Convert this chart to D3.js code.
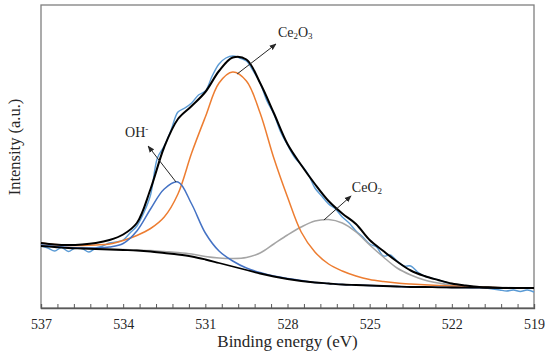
<!DOCTYPE html>
<html>
<head>
<meta charset="utf-8">
<script src="https://cdn.jsdelivr.net/npm/d3@7"></script>
<style>
  body { margin: 0; background: #fff; }
  svg text { font-family: "Liberation Serif", "DejaVu Serif", serif !important; fill: #262626; }
</style>
</head>
<body>
<svg id="chart" width="545" height="358"></svg>
<script>
// fitted curves, sampled every 0.5 eV (intensity in a.u.)
const energy = [537, 536.5, 536, 535.5, 535, 534.5, 534, 533.5, 533, 532.5, 532, 531.5, 531, 530.5, 530, 529.5,
  529, 528.5, 528, 527.5, 527, 526.5, 526, 525.5, 525, 524.5, 524, 523.5, 523, 522.5, 522, 521.5, 521, 520.5, 520, 519.5, 519];
const background = [62, 61, 60, 59.5, 59, 58.5, 58, 57.5, 56.5, 55, 53.5, 51.5, 48.5, 45, 41.5, 38,
  34.5, 31.5, 29, 27, 25.5, 24.5, 23.5, 23, 22.5, 22, 21.5, 21, 21, 20.7, 20.5, 20.4, 20.3, 20.2, 20.1, 20, 20];
const ohFit = [63, 61.5, 60.5, 60, 60, 61, 64.5, 77, 99, 119, 126, 104, 75, 57, 47, 40,
  35.5, 32, 29.5, 27.5, 25.5, 24.5, 23.5, 23, 22.5, 22, 21.5, 21, 21, 20.7, 20.5, 20.4, 20.3, 20.2, 20.1, 20, 20];
const ce2o3Fit = [65, 63.5, 62.5, 62.5, 63, 64, 67.5, 72.5, 79.5, 91, 114, 155, 191, 225, 236, 227,
  195, 150, 111, 76, 56, 44, 37, 32, 28.5, 26.5, 25, 24, 23.2, 22.5, 22, 21.3, 20.8, 20.5, 20.2, 20, 20];
const ceo2Fit = [62.5, 61.5, 60.5, 60, 59.5, 59, 58.5, 58, 57.5, 56.5, 55.5, 54, 51.5, 50, 49.5, 50.5,
  55, 64, 73, 81, 87, 88.5, 85, 76, 63, 51, 40, 33, 28, 25, 23, 22, 21.2, 20.7, 20.4, 20.2, 20];
const envelope = [65, 63.5, 63, 63.5, 65, 68, 73.5, 85, 119, 161, 189, 202, 216, 237, 250.5, 248.5,
  225, 195, 164, 143, 124, 107, 94.5, 84, 68, 57, 46.5, 37.5, 32, 28, 24.5, 22.5, 21, 20.5, 20, 20, 20];

// measured spectrum, every 0.25 eV
const rawEnergy = [537, 536.75, 536.5, 536.25, 536, 535.75, 535.5, 535.25, 535, 534.75, 534.5, 534.25,
  534, 533.75, 533.5, 533.25, 533, 532.75, 532.5, 532.25, 532, 531.75, 531.5, 531.25,
  531, 530.75, 530.5, 530.25, 530, 529.75, 529.5, 529.25, 529, 528.75, 528.5, 528.25,
  528, 527.75, 527.5, 527.25, 527, 526.75, 526.5, 526.25, 526, 525.75, 525.5, 525.25,
  525, 524.75, 524.5, 524.25, 524, 523.75, 523.5, 523.25, 523, 522.75, 522.5, 522.25,
  522, 521.75, 521.5, 521.25, 521, 520.75, 520.5, 520.25, 520, 519.75, 519.5, 519.25, 519];
const rawCounts = [62, 60, 57, 60.5, 56.5, 60, 59.5, 56, 60, 62, 65, 66,
  68, 75, 82, 95, 113, 150, 162, 178, 196, 200, 205, 213,
  217, 232, 244, 250, 252, 250, 247, 237, 225, 207, 194, 176,
  163, 151, 143, 134, 120, 112, 104, 99, 91, 85, 77, 71,
  64, 61, 52, 53, 47, 42, 42, 36, 32, 30, 28, 26,
  24, 22, 21, 21, 21, 20, 19, 18, 17, 18, 16.5, 18, 16];

const xLabels = [537, 534, 531, 528, 525, 522, 519];

const W = 545, H = 358;
const margin = {top: 5, right: 11, bottom: 50, left: 41};
const serif = '"Liberation Serif", "DejaVu Serif", serif';
const svg = d3.select('#chart');

const x = d3.scaleLinear().domain([537, 519]).range([margin.left, W - margin.right]);
const y = d3.scaleLinear().domain([0, 303]).range([H - margin.bottom, margin.top]);

// frame
svg.append('rect')
  .attr('x', margin.left).attr('y', margin.top)
  .attr('width', W - margin.left - margin.right)
  .attr('height', H - margin.top - margin.bottom)
  .attr('fill', 'none').attr('stroke', '#7f7f7f').attr('stroke-width', 1.3);

// bottom axis: inward ticks every 0.6 eV, labels every 3 eV
const minorTicks = d3.range(0, 31).map(i => 537 - i * 0.6);
const xAxis = svg.append('g')
  .attr('transform', `translate(0,${H - margin.bottom})`)
  .call(d3.axisBottom(x)
    .tickValues(minorTicks)
    .tickSize(-4)
    .tickPadding(11)
    .tickFormat(d => {
      const r = Math.round(d * 10) / 10;
      return xLabels.includes(r) ? r : '';
    }));
xAxis.attr('font-family', serif);
xAxis.select('.domain').attr('stroke', '#595959').attr('stroke-width', 1.3);
xAxis.selectAll('.tick line').attr('stroke', '#595959');
xAxis.selectAll('.tick text')
  .style('font-family', serif)
  .style('font-size', '14px')
  .attr('fill', '#262626');

// axis titles
svg.append('text')
  .attr('x', (margin.left + W - margin.right) / 2)
  .attr('y', 347)
  .attr('text-anchor', 'middle')
  .style('font-family', serif)
  .style('font-size', '17px')
  .text('Binding energy (eV)');

svg.append('text')
  .attr('transform', 'translate(20,147) rotate(-90)')
  .attr('text-anchor', 'middle')
  .style('font-family', serif)
  .style('font-size', '16.5px')
  .text('Intensity (a.u.)');

// curves
const plot = svg.append('g');
const line = (xs, ys) => d3.line()
  .x((d, i) => x(xs[i]))
  .y(d => y(d))
  .curve(d3.curveCatmullRom.alpha(0.5))(ys);

const series = [
  {values: rawCounts, xs: rawEnergy, color: '#5b9bd5', width: 1.4},
  {values: ceo2Fit, xs: energy, color: '#a5a5a5', width: 1.5},
  {values: ce2o3Fit, xs: energy, color: '#ed7d31', width: 1.5},
  {values: ohFit, xs: energy, color: '#4472c4', width: 1.5},
  {values: background, xs: energy, color: '#000000', width: 1.8},
  {values: envelope, xs: energy, color: '#000000', width: 2}
];

plot.selectAll('path.curve')
  .data(series)
  .join('path')
  .classed('curve', true)
  .attr('d', s => line(s.xs, s.values))
  .attr('fill', 'none')
  .attr('stroke', s => s.color)
  .attr('stroke-width', s => s.width)
  .attr('stroke-linejoin', 'round');

// annotations: arrows from each peak to its label
svg.append('defs').append('marker')
  .attr('id', 'arrow')
  .attr('viewBox', '0 0 10 10')
  .attr('refX', 9).attr('refY', 5)
  .attr('markerWidth', 7).attr('markerHeight', 7)
  .attr('orient', 'auto')
  .append('path')
  .attr('d', 'M0,1 L10,5 L0,9 z')
  .attr('fill', '#262626');

const arrows = [
  {from: [532.07, 126], to: [533.09, 162]},
  {from: [529.84, 234], to: [528.42, 264]},
  {from: [526.67, 88], to: [525.68, 112]}
];
svg.selectAll('line.arrow')
  .data(arrows)
  .join('line')
  .classed('arrow', true)
  .attr('x1', d => x(d.from[0])).attr('y1', d => y(d.from[1]))
  .attr('x2', d => x(d.to[0])).attr('y2', d => y(d.to[1]))
  .attr('stroke', '#262626')
  .attr('stroke-width', 1)
  .attr('marker-end', 'url(#arrow)');

// labels with sub/superscripts: 0 = normal, 1 = subscript, -1 = superscript
const labels = [
  {at: [533.93, 171], parts: [['OH', 0], ['-', -1]]},
  {at: [528.35, 271.5], parts: [['Ce', 0], ['2', 1], ['O', 0], ['3', 1]]},
  {at: [525.65, 116], parts: [['Ce', 0], ['O', 0], ['2', 1]]}
];
const shift = {'0': 0, '1': 2, '-1': -5};
labels.forEach(l => {
  const t = svg.append('text')
    .attr('x', x(l.at[0]))
    .attr('y', y(l.at[1]))
    .style('font-family', serif)
    .style('font-size', '14px');
  l.parts.forEach(([s, pos], i) => {
    const prev = i > 0 ? l.parts[i - 1][1] : 0;
    const sp = t.append('tspan').text(s).attr('dy', shift[pos] - shift[prev]);
    if (pos !== 0) sp.style('font-size', '9px');
  });
});
</script>
</body>
</html>
